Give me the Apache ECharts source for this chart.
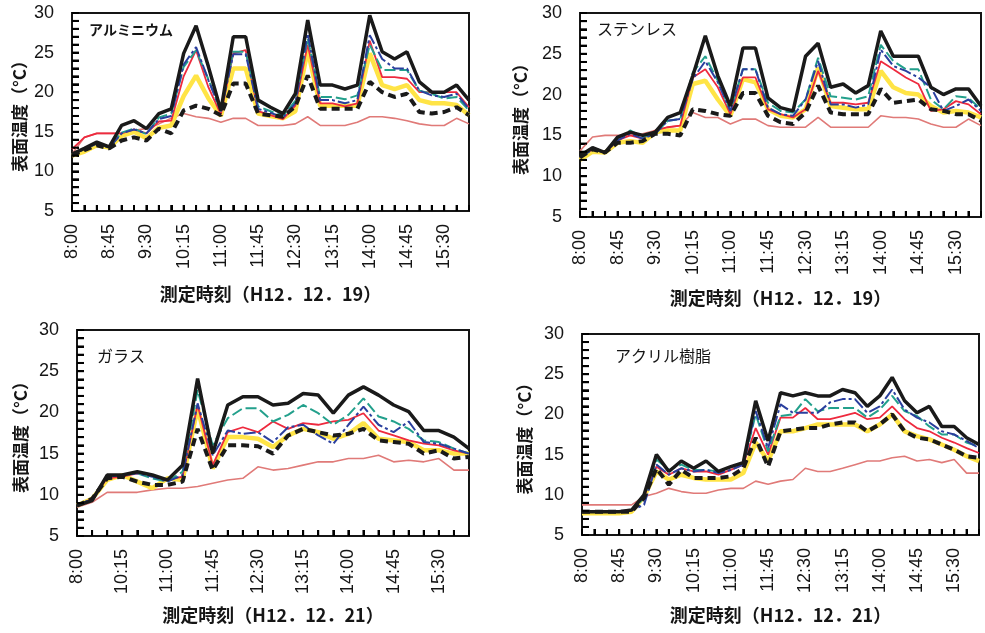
<!DOCTYPE html>
<html>
<head>
<meta charset="utf-8">
<script src="https://cdn.jsdelivr.net/npm/echarts@6/dist/echarts.min.js"></script>
<style>
  html, body { margin: 0; padding: 0; background: #fff; }
  #chart { width: 985px; height: 633px; }
</style>
</head>
<body>
<div id="chart"></div>
<script>
// Measurement times (15-minute steps)
const timesFull = ['8:00','8:15','8:30','8:45','9:00','9:15','9:30','9:45','10:00','10:15','10:30','10:45',
  '11:00','11:15','11:30','11:45','12:00','12:15','12:30','12:45','13:00','13:15','13:30','13:45',
  '14:00','14:15','14:30','14:45','15:00','15:15','15:30','15:45','16:00'];
const timesGlass = ['8:00','9:45','10:00','10:15','10:30','10:45',
  '11:00','11:15','11:30','11:45','12:00','12:15','12:30','12:45','13:00','13:15','13:30','13:45',
  '14:00','14:15','14:30','14:45','15:00','15:15','15:30','15:45','16:00'];

// Y axis scale (°C)
const yMin = 5, yMax = 30, yStep = 5, yMinorStep = 1;

// アルミニウム (H12.12.19)
const alBlack  = [12.2,12.9,13.7,13.1,15.8,16.4,15.4,17.3,17.9,24.9,28.4,23.2,17.7,27.0,27.0,19.0,18.1,17.3,19.8,29.1,20.9,20.9,20.4,20.9,29.7,25.1,24.2,25.1,21.3,20.0,20.0,20.9,19.0];
const alBlue   = [12.2,12.8,13.5,13.0,14.8,15.3,14.8,16.6,17.0,23.5,25.7,21.5,17.6,24.8,24.8,17.9,17.4,16.8,18.6,27.4,19.0,19.0,18.6,19.0,27.2,24.2,23.0,23.0,20.2,19.6,19.4,19.8,17.9];
const alGreen  = [12.2,12.8,13.6,13.0,14.9,15.4,14.7,16.8,17.3,23.2,25.3,21.6,17.6,25.1,25.1,18.2,17.6,17.0,18.9,26.8,19.4,19.4,19.1,19.6,26.0,22.8,22.8,22.8,20.2,19.8,19.2,19.4,17.7];
const alRed    = [12.8,14.3,14.8,14.8,14.8,15.3,14.8,16.3,16.4,22.0,25.3,20.6,17.2,24.9,25.3,17.6,17.1,16.6,18.3,26.0,18.6,18.6,18.2,18.6,26.5,21.9,21.9,21.7,20.0,20.0,20.0,20.0,18.1];
const alYellow = [12.0,12.5,13.3,13.0,14.5,15.0,14.2,15.5,15.8,19.5,22.1,19.2,17.0,23.0,23.0,17.3,17.0,16.7,17.6,25.3,18.3,18.3,18.3,18.3,24.9,20.9,20.4,20.9,19.0,18.6,18.6,18.4,17.1];
const alDash   = [12.0,12.7,13.3,12.9,13.9,14.3,13.9,15.4,14.8,17.7,18.3,17.9,17.1,21.1,21.1,17.3,17.1,16.9,18.2,22.1,17.9,17.9,17.9,17.9,21.3,20.0,19.4,19.8,17.5,17.3,17.5,18.1,17.1];
const alAir    = [12.2,14.3,14.8,14.8,14.8,15.2,15.4,16.0,16.7,17.3,16.9,16.7,16.2,16.7,16.7,15.8,15.8,15.8,16.0,16.9,15.8,15.8,15.8,16.2,16.9,16.9,16.7,16.4,16.0,15.8,15.8,16.7,16.0];

// ステンレス (H12.12.19)
const stBlack  = [12.5,13.5,12.9,14.8,15.4,15.0,15.4,17.2,17.8,22.3,27.2,22.3,18.6,25.7,25.7,19.6,18.4,18.0,24.7,26.3,20.9,21.3,20.2,21.1,27.8,24.7,24.7,24.7,20.9,20.0,20.7,20.7,18.6];
const stBlue   = [12.3,13.3,12.9,14.4,15.2,14.6,15.2,16.8,17.0,21.9,24.1,21.5,18.0,23.1,23.1,18.4,17.6,17.4,19.4,24.1,18.8,18.8,18.4,18.8,25.5,23.5,22.9,22.1,20.9,18.0,18.6,19.4,18.0];
const stGreen  = [12.3,13.3,12.9,14.6,15.6,14.8,15.2,16.8,17.0,22.7,24.7,21.7,18.0,23.1,23.1,19.0,18.0,17.8,19.4,24.5,19.8,19.6,19.4,19.8,26.1,24.1,23.1,23.1,19.4,18.2,19.8,19.6,18.2];
const stRed    = [12.3,13.3,12.9,14.4,15.0,14.6,15.6,16.0,16.2,22.1,23.1,20.9,17.6,22.1,22.1,18.2,17.6,17.2,18.2,22.9,19.0,19.0,18.8,19.0,24.1,23.1,22.1,21.3,18.0,18.2,19.2,18.8,17.6];
const stYellow = [12.0,13.0,12.9,14.1,14.3,14.1,15.4,15.6,15.6,21.3,21.7,19.4,17.4,21.9,21.5,18.2,17.4,17.2,18.2,23.3,18.6,18.4,18.2,18.2,22.9,20.9,20.2,20.0,18.6,17.8,18.0,17.8,17.2];
const stDash   = [12.3,13.3,12.9,14.1,14.1,14.3,15.2,15.2,15.0,18.2,18.0,17.6,17.4,20.2,20.2,17.4,16.6,16.4,17.8,21.1,17.8,17.6,17.6,17.6,20.7,19.0,19.2,19.4,18.2,18.0,17.6,17.6,16.8];
const stAir    = [13.1,14.8,15.0,15.0,15.0,15.2,15.6,16.0,16.2,17.8,17.2,17.2,16.4,17.0,17.0,16.2,16.0,16.0,16.0,17.2,16.0,16.0,16.0,16.0,17.4,17.2,17.2,17.0,16.4,16.0,16.0,17.0,16.2];

// ガラス (H12.12.21)
const glBlack  = [8.7,9.3,12.4,12.4,12.8,12.4,11.8,13.6,24.1,15.0,20.9,21.9,21.9,20.9,21.1,22.3,22.1,19.9,22.1,23.1,22.1,20.9,20.1,17.8,17.8,17.0,15.6];
const glBlue   = [8.7,9.5,12.2,12.4,12.6,12.2,11.6,12.4,21.1,14.8,17.8,17.4,17.6,16.4,18.2,18.5,17.2,16.2,18.5,20.7,18.5,17.6,18.9,16.4,16.2,15.6,15.0];
const glGreen  = [8.7,9.5,12.2,12.4,12.6,12.0,11.6,12.8,22.7,16.0,19.3,20.5,20.5,18.9,19.7,20.9,19.9,18.5,19.7,21.7,19.5,18.9,18.0,16.6,16.4,15.6,15.0];
const glRed    = [8.7,9.5,12.0,12.2,12.6,12.4,11.8,12.2,20.9,13.6,17.6,18.2,17.6,18.9,18.0,18.7,18.5,18.9,19.1,19.9,17.8,17.2,16.6,16.2,16.0,15.4,15.0];
const glYellow = [8.7,9.5,11.8,12.4,11.6,10.8,12.0,11.8,20.5,13.2,17.0,17.0,16.8,15.8,17.2,18.0,17.6,16.8,17.4,18.7,16.8,16.6,16.4,15.4,15.4,15.0,15.0];
const glDash   = [8.7,9.5,12.0,12.2,11.6,11.2,11.2,11.6,18.0,13.0,16.0,16.0,15.9,15.0,17.2,18.0,17.6,17.2,17.4,18.0,16.6,16.4,16.2,15.0,15.4,14.4,14.6];
const glAir    = [8.5,9.1,10.3,10.3,10.3,10.6,10.8,10.8,11.0,11.4,11.8,12.0,13.4,13.0,13.2,13.6,14.0,14.0,14.4,14.4,14.8,14.0,14.2,14.0,14.4,13.0,13.0];

// アクリル樹脂 (H12.12.21)
const acBlack  = [7.9,7.9,7.9,7.9,8.1,10.0,15.0,12.9,14.2,13.3,14.2,12.9,13.5,14.0,21.7,16.7,22.7,22.3,22.7,22.3,22.3,23.1,22.7,21.0,22.3,24.6,21.7,20.2,21.0,18.5,18.5,17.1,16.25];
const acBlue   = [7.9,7.9,7.9,7.9,8.1,8.75,13.75,12.5,13.3,12.9,13.1,12.7,13.1,13.75,20.4,15.8,21.25,20.2,20.2,20.2,21.5,21.9,21.9,20.2,21.0,23.1,20.6,19.6,19.0,17.9,17.5,16.7,15.8];
const acGreen  = [7.9,7.9,7.9,7.9,8.1,9.6,14.4,13.1,13.75,13.1,13.1,12.9,13.5,13.75,20.0,15.4,19.8,20.0,21.9,20.4,20.8,20.8,20.8,19.6,20.6,22.3,20.4,19.8,18.5,17.5,17.5,16.5,16.0];
const acRed    = [7.9,7.9,7.9,7.9,8.1,9.8,13.5,12.5,13.3,12.9,12.9,12.5,13.1,13.75,18.3,15.0,19.6,19.6,20.8,19.4,19.4,19.8,20.2,19.4,19.6,21.0,19.4,18.3,17.9,17.1,16.5,15.8,15.2];
const acYellow = [7.7,7.7,7.7,7.7,7.9,9.8,12.9,11.9,12.5,12.1,11.9,11.9,11.9,12.7,16.5,14.2,17.9,17.9,18.3,18.75,18.75,18.75,18.75,17.9,18.75,20.0,17.9,17.3,16.9,16.25,15.6,14.8,14.2];
const acDash   = [7.9,7.9,7.9,7.9,7.9,9.6,13.3,11.25,13.1,12.1,12.1,12.1,12.3,13.3,17.1,13.5,17.9,18.1,18.3,18.3,18.75,19.0,19.0,17.9,18.75,20.0,17.9,17.1,16.9,16.25,15.6,14.8,14.6];
const acAir    = [8.75,8.75,8.75,8.75,8.75,9.8,10.2,10.8,10.4,10.2,10.2,10.6,10.8,10.8,11.7,11.3,11.7,11.9,13.3,12.9,12.9,13.3,13.75,14.2,14.2,14.6,14.8,14.2,14.4,14.0,14.4,12.7,12.7];

const titles = ['アルミニウム', 'ステンレス', 'ガラス', 'アクリル樹脂'];
const xNames = ['測定時刻（H12．12．19）', '測定時刻（H12．12．19）', '測定時刻（H12．12．21）', '測定時刻（H12．12．21）'];
const yName = '表面温度（°C）';

const panelData = [
  { cats: timesFull,  lines: [alAir, alYellow, alRed, alGreen, alBlue, alDash, alBlack] },
  { cats: timesFull,  lines: [stAir, stYellow, stRed, stGreen, stBlue, stDash, stBlack] },
  { cats: timesGlass, lines: [glAir, glYellow, glRed, glGreen, glBlue, glDash, glBlack] },
  { cats: timesFull,  lines: [acAir, acYellow, acRed, acGreen, acBlue, acDash, acBlack] }
];

// ---- styling / layout ----
const JP = '"Noto Sans CJK JP", "Noto Sans", sans-serif';
const NUM = '"Liberation Sans", Arial, sans-serif';
const INK = '#151515';

const lineStyles = [
  { name: 'air',    color: '#e07a78', width: 1.6, type: 'solid' },
  { name: 'yellow', color: '#ffe446', width: 4.5, type: 'solid' },
  { name: 'red',    color: '#ee2a3e', width: 1.8, type: 'solid' },
  { name: 'green',  color: '#23a08c', width: 2,   type: [11, 4] },
  { name: 'blue',   color: '#2a3f9e', width: 2,   type: [12, 3, 3, 3] },
  { name: 'dash',   color: '#1a1a1a', width: 4,   type: [8, 5] },
  { name: 'black',  color: '#1a1a1a', width: 3.5, type: 'solid' }
];

const grids = [
  { left: 72,  top: 13,  width: 397, height: 198 },
  { left: 580, top: 13,  width: 401, height: 204 },
  { left: 77,  top: 330, width: 392, height: 206 },
  { left: 582, top: 334, width: 397, height: 201 }
];
const yNameGaps = [44, 51, 48, 49];
const xNameGaps = [74, 72, 70, 71];
const titlePos = [
  { left: 89,  top: 23,  size: 14, weight: 'bold' },
  { left: 597, top: 21,  size: 16, weight: 'normal' },
  { left: 97,  top: 348, size: 16, weight: 'normal' },
  { left: 615, top: 348, size: 16, weight: 'normal' }
];

const tick = () => ({ show: true, inside: true, length: 7, lineStyle: { color: '#000', width: 2 } });

const option = {
  animation: false,
  title: titles.map((t, i) => ({
    text: t, left: titlePos[i].left, top: titlePos[i].top, padding: 0,
    textStyle: { fontFamily: JP, fontSize: titlePos[i].size, fontWeight: titlePos[i].weight, color: INK }
  })),
  grid: grids.map(g => Object.assign({ show: true, borderColor: INK, borderWidth: 2 }, g)),
  xAxis: panelData.map((p, i) => ({
    type: 'category', gridIndex: i, data: p.cats, boundaryGap: false,
    name: xNames[i], nameLocation: 'middle', nameGap: xNameGaps[i],
    nameTextStyle: { fontFamily: JP, fontSize: 18, fontWeight: 'bold', color: INK },
    axisLine: { show: true, lineStyle: { color: INK, width: 2 } },
    axisTick: Object.assign(tick(), { interval: 0, length: 6 }),
    axisLabel: { interval: 2, rotate: 90, margin: 13, fontFamily: NUM, fontSize: 18, color: INK },
    splitLine: { show: false }
  })),
  yAxis: panelData.map((p, i) => ({
    type: 'value', gridIndex: i, min: yMin, max: yMax, interval: yStep,
    name: yName, nameLocation: 'middle', nameGap: yNameGaps[i],
    nameTextStyle: { fontFamily: JP, fontSize: 17, fontWeight: 'bold', color: INK },
    axisLine: { show: true, lineStyle: { color: INK, width: 2 } },
    axisTick: tick(),
    minorTick: { show: true, splitNumber: yStep / yMinorStep, length: 7, lineStyle: { color: '#000', width: 2 } },
    axisLabel: { margin: 18, fontFamily: NUM, fontSize: 18, color: INK },
    splitLine: { show: false }
  })),
  series: []
};

panelData.forEach((p, i) => {
  p.lines.forEach((vals, k) => {
    const s = lineStyles[k];
    option.series.push({
      type: 'line', name: s.name, xAxisIndex: i, yAxisIndex: i, data: vals,
      showSymbol: false, symbol: 'none', z: 2 + k,
      lineStyle: { color: s.color, width: s.width, type: s.type }
    });
  });

  // Inward tick marks along the left (every 1 °C) and bottom (every category) edges,
  // placed through the panel's own axes.
  const tickItems = [];
  for (let v = yMin; v <= yMax; v += yMinorStep) tickItems.push([0, v, 0]);
  for (let c = 1; c < p.cats.length - 1; c++) tickItems.push([c, yMin, 1]);
  option.series.push({
    type: 'custom', name: 'ticks', xAxisIndex: i, yAxisIndex: i, data: tickItems,
    encode: { x: 0, y: 1 }, clip: false, silent: true, z: 20,
    renderItem: (params, api) => {
      const pt = api.coord([api.value(0), api.value(1)]);
      const isY = api.value(2) === 0;
      return {
        type: 'line',
        shape: isY ? { x1: pt[0], y1: pt[1], x2: pt[0] + 7, y2: pt[1] }
                   : { x1: pt[0], y1: pt[1], x2: pt[0], y2: pt[1] - 6 },
        style: { stroke: '#000', lineWidth: 2 }
      };
    }
  });
});

const chart = echarts.init(document.getElementById('chart'));
chart.setOption(option);
</script>
</body>
</html>
